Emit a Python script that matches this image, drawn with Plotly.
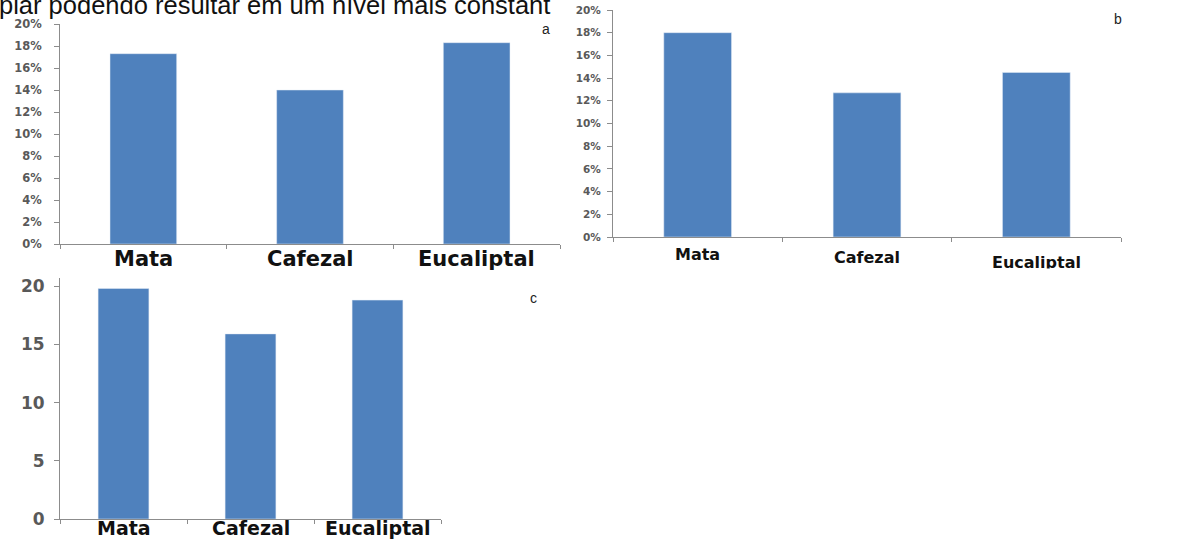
import plotly.graph_objects as go

W, H = 1178, 539

# Categories and values for the three panels
categories = ["Mata", "Cafezal", "Eucaliptal"]
values_a = [0.173, 0.140, 0.183]      # panel a, fraction
values_b = [0.180, 0.127, 0.145]      # panel b, fraction
values_c = [19.8, 15.9, 18.8]         # panel c, absolute

pct_ticks = [0, 0.02, 0.04, 0.06, 0.08, 0.10, 0.12, 0.14, 0.16, 0.18, 0.20]
num_ticks = [0, 5, 10, 15, 20]

BAR = "#4f81bd"
AXIS = "#8c8c8c"
TICKTXT = "#595959"
WIDE = "DejaVu Sans, Verdana, sans-serif"


def px_x(a, b):
    return [a / W, b / W]


def px_y(bottom, top):
    return [1 - bottom / H, 1 - top / H]


fig = go.Figure()
fig.add_trace(go.Bar(x=categories, y=values_a, marker_color=BAR, xaxis="x", yaxis="y"))
fig.add_trace(go.Bar(x=categories, y=values_b, marker_color=BAR, xaxis="x2", yaxis="y2"))
fig.add_trace(go.Bar(x=categories, y=values_c, marker_color=BAR, xaxis="x3", yaxis="y3"))

common_x = dict(
    type="category", showline=True, linecolor=AXIS, linewidth=1,
    ticks="outside", tickson="boundaries", ticklen=4, tickcolor=AXIS,
    showgrid=False, zeroline=False, automargin=False, showticklabels=False,
)
common_y = dict(
    showline=True, linecolor=AXIS, linewidth=1, ticks="outside", ticklen=5,
    tickcolor=AXIS, showgrid=False, zeroline=False, automargin=False,
)

fig.update_layout(
    width=W, height=H,
    margin=dict(l=0, r=0, t=0, b=0, pad=0, autoexpand=False),
    paper_bgcolor="white", plot_bgcolor="white",
    showlegend=False, bargap=0.6,
    font=dict(family="Liberation Sans, Arial, sans-serif"),
    xaxis=dict(domain=px_x(60, 560), anchor="y", **common_x),
    yaxis=dict(domain=px_y(244, 24), anchor="x", range=[0, 0.2],
               tickvals=pct_ticks, tickformat=".0%",
               tickfont=dict(size=11.5, color=TICKTXT, weight="bold", family=WIDE),
               ticklabelstandoff=10, **common_y),
    xaxis2=dict(domain=px_x(613, 1121), anchor="y2", **common_x),
    yaxis2=dict(domain=px_y(237, 10), anchor="x2", range=[0, 0.2],
                tickvals=pct_ticks, tickformat=".0%",
                tickfont=dict(size=10.5, color=TICKTXT, weight="bold", family=WIDE),
                ticklabelstandoff=4, **common_y),
    xaxis3=dict(domain=px_x(60, 441), anchor="y3", **common_x),
    yaxis3=dict(domain=px_y(519, 278), anchor="x3", range=[0, 20.7],
                tickvals=num_ticks,
                tickfont=dict(size=17, color=TICKTXT, weight="bold", family=WIDE),
                ticklabelstandoff=6, **common_y),
)

# Category labels under each panel (pixel row of the label centre per category)
label_rows = {
    "x": ([259, 259, 259], 21),
    "x2": ([254, 257, 262], 16),
    "x3": ([528, 528, 528], 19),
}
for axis_ref, (rows, size) in label_rows.items():
    for cat, yy in zip(categories, rows):
        fig.add_annotation(x=cat, xref=axis_ref, y=1 - yy / H, yref="paper",
                           text=cat, showarrow=False,
                           xanchor="center", yanchor="middle", borderpad=0,
                           font=dict(size=size, color="#111111",
                                     weight="bold", family=WIDE))

# White strip trimming the lower edge of panel b's labels
fig.add_annotation(x=960 / W, xref="paper", y=1 - 268 / H, yref="paper",
                   xanchor="left", yanchor="top", text=" ", showarrow=False,
                   width=218, height=24, bgcolor="white", borderpad=0)

# Panel letters
for letter, xx, yy in [("a", 546, 29), ("b", 1118, 19), ("c", 533, 298)]:
    fig.add_annotation(x=xx / W, xref="paper", y=1 - yy / H, yref="paper",
                       text=letter, showarrow=False,
                       xanchor="center", yanchor="middle",
                       font=dict(size=14, color="#222222"))

# Running text line above the panels
fig.add_annotation(x=-3 / W, xref="paper", xanchor="left",
                   y=1 - 21 / H, yref="paper", yanchor="bottom",
                   text="piar podendo resultar em um nível mais constant",
                   showarrow=False,
                   font=dict(size=25.5, color="#111111",
                             family="Liberation Sans, Arial, sans-serif"))

fig.write_html("out.html")
